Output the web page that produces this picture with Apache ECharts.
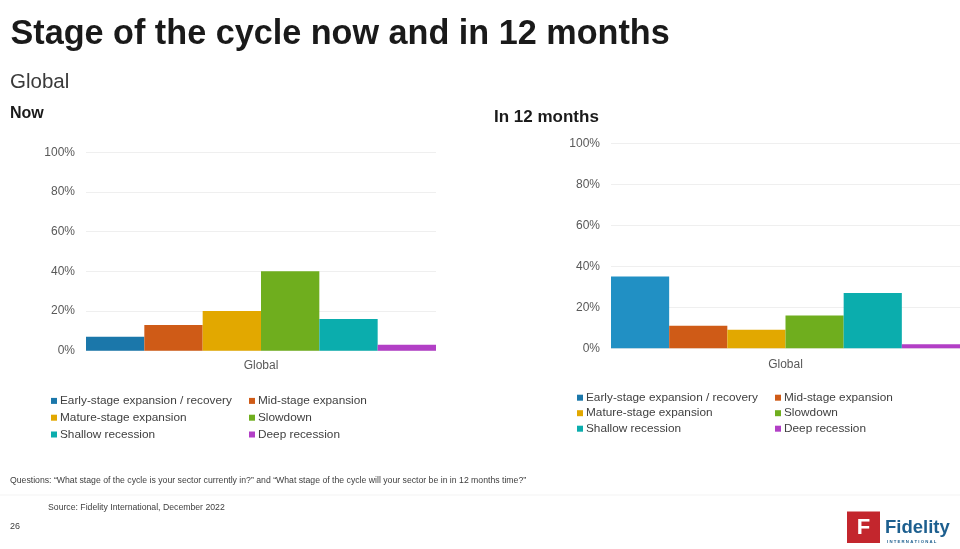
<!DOCTYPE html>
<html>
<head>
<meta charset="utf-8">
<script src="https://cdn.jsdelivr.net/npm/echarts@6/dist/echarts.min.js"></script>
<style>
html,body{margin:0;padding:0;background:#fff;}
#chart{width:960px;height:549px;}
</style>
</head>
<body>
<div id="chart"></div>
<script>
const categories = ['Global'];
const stages = ['Early-stage expansion / recovery','Mid-stage expansion','Mature-stage expansion','Slowdown','Shallow recession','Deep recession'];
const nowValues = [7, 13, 20, 40, 16, 3];
const in12Values = [35, 11, 9, 16, 27, 2];
const yTicks = [0, 20, 40, 60, 80, 100];
const colorsNow = ['#1b77aa','#cf5b17','#e2a800','#6fae1e','#0badad','#b23fc6'];
const colors12 = ['#2190c4','#cf5b17','#e2a800','#6fae1e','#0badad','#b23fc6'];

const chart = echarts.init(document.getElementById('chart'), null, {renderer:'canvas'});

const font = 'Liberation Sans, Arial, sans-serif';

function yAxis(gridIndex){
  return {
    gridIndex, type:'value', min:0, max:100, interval:20,
    axisLabel:{formatter: v => yTicks.includes(v) ? v + '%' : '', color:'#595959', fontSize:12, fontFamily:font, margin:11},
    splitLine:{lineStyle:{color:'#efefef', width:1}},
    axisLine:{show:false}, axisTick:{show:false}
  };
}
function xAxis(gridIndex, margin){
  return {
    gridIndex, type:'category', data:categories,
    axisLabel:{color:'#595959', fontSize:12, fontFamily:font, margin},
    axisLine:{show:false}, axisTick:{show:false}
  };
}

const series = [];
stages.forEach((name,i)=>{
  series.push({name, type:'bar', xAxisIndex:0, yAxisIndex:0, data:[nowValues[i]],
    barGap:'0%', barCategoryGap:'0%', itemStyle:{color:colorsNow[i]}, animation:false});
});
stages.forEach((name,i)=>{
  series.push({name, type:'bar', xAxisIndex:1, yAxisIndex:1, data:[in12Values[i]],
    barGap:'0%', barCategoryGap:'0%', itemStyle:{color:colors12[i]}, animation:false});
});

function legend(left, top, names, gap){
  return {
    orient:'vertical', left, top, data:names, icon:'rect', itemWidth:6, itemHeight:6,
    itemGap:gap, selectedMode:false, padding:0,
    textStyle:{color:'#404040', fontSize:11.8, fontFamily:font, lineHeight:14, padding:[0,0,0,-2]}
  };
}

function txt(x, y, text, f, fill){
  return {type:'text', x, y, style:{text, font:f, fill, verticalAlign:'middle', align:'left'}};
}

const option = {
  backgroundColor:'#fff',
  animation:false,
  grid:[
    {left:86, width:350, top:152.3, height:198.4},
    {left:611, width:350, top:143.3, height:205}
  ],
  xAxis:[xAxis(0,9), xAxis(1,10)],
  yAxis:[yAxis(0), yAxis(1)],
  legend:[
    legend(51, 393.9, [stages[0],stages[2],stages[4]], 2.8),
    legend(249, 393.9, [stages[1],stages[3],stages[5]], 2.8),
    legend(577, 390.7, [stages[0],stages[2],stages[4]], 1.5),
    legend(775, 390.7, [stages[1],stages[3],stages[5]], 1.5)
  ],
  graphic:[
    txt(10.5, 34.5, 'Stage of the cycle now and in 12 months', 'bold 34.2px '+font, '#1a1a1a'),
    txt(10, 82.5, 'Global', '20.5px '+font, '#3a3a3a'),
    txt(10, 114, 'Now', 'bold 16px '+font, '#1a1a1a'),
    txt(494, 117, 'In 12 months', 'bold 17px '+font, '#1a1a1a'),
    txt(10, 480.5, 'Questions: \u201cWhat stage of the cycle is your sector currently in?\u201d and \u201cWhat stage of the cycle will your sector be in in 12 months time?\u201d', '8.7px '+font, '#404040'),
    {type:'line', shape:{x1:0, y1:495, x2:960, y2:495}, style:{stroke:'#f3f3f3', lineWidth:1}},
    txt(48, 507.5, 'Source: Fidelity International, December 2022', '8.7px '+font, '#404040'),
    txt(10, 527, '26', '9px '+font, '#404040'),
    {type:'rect', shape:{x:847, y:511.5, width:33, height:31.5}, style:{fill:'#c3262d'}},
    {type:'text', x:863.5, y:528, style:{text:'F', font:'bold 22px '+font, fill:'#ffffff', align:'center', verticalAlign:'middle'}},
    txt(885, 527.5, 'Fidelity', 'bold 18.5px '+font, '#1d5f8f'),
    txt(887, 541.5, 'I N T E R N A T I O N A L', 'bold 4.3px '+font, '#1d5f8f')
  ],
  series
};
chart.setOption(option);
</script>
</body>
</html>
